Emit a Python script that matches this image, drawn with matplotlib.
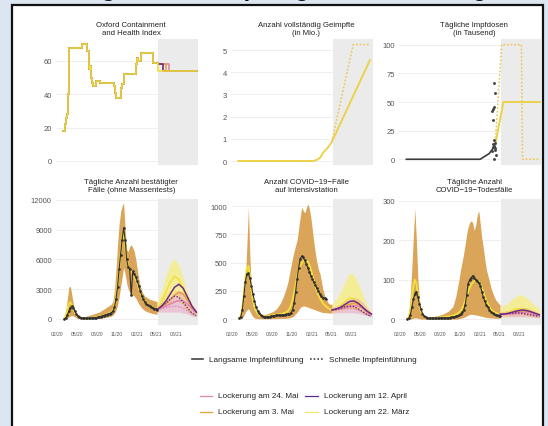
import matplotlib.pyplot as plt
import matplotlib.patches as patches
from matplotlib.lines import Line2D
import numpy as np

plt.rcParams['font.family'] = ['Liberation Sans', 'DejaVu Sans']

W, H = 548, 427

# x axis in days since 2020-02-01
tick_days = [0, 90, 182, 274, 366, 455, 547]
tick_labels = ['02/20', '05/20', '08/20', '11/20', '02/21', '05/21', '08/21']
proj_start = 464
x_range = (-5, 648)

# ---- top row ----
oxford_days = [29, 36, 41, 46, 49, 52, 55, 113, 139, 145, 149, 153, 157, 159, 165,
               178, 197, 260, 266, 271, 293, 297, 308, 362, 366, 372, 384, 442, 462]
oxford_vals = [18, 22, 26, 28, 39, 40, 68, 70, 66, 60, 55, 57, 50, 47, 45,
               48, 47, 45, 41, 38, 44, 46, 52, 58, 62, 60, 65, 59, 58]
# day on which the index steps down to 54 for each scenario
oxford_step_days = {'mar': 466, 'apr': 486, 'may3': 500, 'may24': 514}
oxford_end = 54

vax_days = [29, 373, 390, 405, 419, 440, 458, 634]
vax_vals = [0, 0, 0.05, 0.15, 0.38, 0.6, 0.85, 4.55]
vax_fast_days = [458, 557, 634]
vax_fast_vals = [0.85, 5.25, 5.25]

doses_line_days = [29, 368, 410, 437]
doses_line_vals = [0, 0, 5, 12]
doses_pts_days = [432, 435, 423, 428, 431, 426, 431, 427, 437, 440, 430, 421, 433, 435, 438, 429]
doses_pts_vals = [67, 58, 42, 44, 46, 34, 17, 13, 8, 4, 0, 7, 12, 14, 10, 11]
doses_slow_days = [437, 475, 643]
doses_slow_vals = [12, 50, 50]
doses_fast_days = [437, 467, 558, 563, 636]
doses_fast_vals = [12, 100, 100, 0, 0]

# ---- bottom row: weekly history ----
obs_days = [33, 40, 47, 54, 61, 68, 75, 82, 89, 96,
            103, 110, 117, 124, 131, 138, 145, 152, 159, 166,
            173, 180, 187, 194, 201, 208, 215, 222, 229, 236,
            243, 250, 257, 264, 271, 278, 285, 292, 299, 306,
            313, 320, 327, 334, 341, 348, 355, 362, 369, 376,
            383, 390, 397, 404, 411, 418, 425, 432, 439, 446,
            453, 460]

cases_obs = [10, 100, 400, 800, 1100, 1300, 1100, 800, 500, 300,
             200, 150, 100, 80, 60, 60, 60, 80, 90, 100,
             120, 150, 180, 200, 250, 300, 350, 400, 450, 500,
             550, 650, 800, 1200, 2000, 3200, 5000, 6500, 8000, 9200,
             8000, 6000, 5200, 5000, 2400, 4800, 4500, 4200, 3800, 3300,
             2800, 2300, 2000, 1700, 1500, 1400, 1300, 1200, 1100, 1050,
             1000, 950]
cases_hi = [100, 800, 2000, 3200, 3300, 2400, 1500, 900, 500, 300,
            250, 200, 200, 200, 250, 300, 350, 400, 450, 500,
            550, 600, 650, 700, 800, 900, 1000, 1100, 1200, 1300,
            1400, 1500, 1800, 3000, 5000, 7500, 9500, 10800, 11400, 11700,
            9000, 7000, 6800, 7300, 7500, 7200, 6800, 6000, 5000, 4000,
            3300, 2800, 2500, 2300, 2200, 2100, 2000, 1950, 1900, 1850,
            1800, 1750]
cases_lo = [0, 20, 100, 200, 300, 350, 300, 200, 100, 50,
            30, 20, 20, 20, 20, 20, 20, 30, 30, 40,
            40, 50, 60, 70, 80, 100, 120, 150, 180, 200,
            250, 300, 400, 600, 900, 1400, 2200, 3200, 4200, 5200,
            4500, 3600, 3000, 2700, 2500, 2400, 2300, 2100, 1800, 1500,
            1300, 1100, 950, 850, 750, 700, 650, 600, 550, 520,
            500, 480]
cases_med = [30, 300, 900, 1500, 1700, 1400, 1000, 650, 400, 250,
             150, 100, 80, 70, 70, 70, 80, 90, 100, 120,
             140, 160, 190, 220, 260, 300, 350, 400, 450, 520,
             600, 700, 900, 1400, 2300, 3500, 5000, 6600, 8000, 9000,
             7500, 6000, 5300, 5000, 4800, 4600, 4300, 4000, 3600, 3100,
             2700, 2300, 2000, 1800, 1600, 1450, 1350, 1250, 1150, 1100,
             1050, 1000]

icu_obs = [5, 20, 80, 200, 330, 400, 405, 360, 290, 220,
           160, 110, 75, 50, 35, 25, 20, 18, 18, 20,
           22, 25, 28, 30, 32, 33, 34, 35, 35, 36,
           38, 40, 42, 45, 55, 80, 140, 240, 350, 450,
           530, 555, 545, 520, 490, 455, 420, 385, 355, 325,
           300, 270, 245, 220, 200, 190, 182, 178, None, None,
           None, None]
icu_hi = [10, 40, 100, 200, 350, 650, 990, 550, 220, 120,
          80, 60, 50, 45, 42, 40, 40, 42, 45, 50,
          55, 60, 65, 75, 85, 100, 120, 140, 170, 200,
          240, 280, 330, 400, 470, 540, 600, 650, 700, 800,
          900, 990, 960, 940, 980, 1020, 980, 900, 790, 680,
          580, 500, 440, 400, 330, 260, 210, 180, 150, 135,
          130, 130]
icu_lo = [0, 2, 10, 30, 60, 80, 90, 70, 40, 20,
          10, 5, 3, 2, 2, 2, 2, 2, 2, 2,
          2, 3, 3, 3, 3, 4, 4, 5, 5, 6,
          6, 7, 8, 10, 15, 20, 30, 45, 60, 80,
          100, 110, 115, 115, 110, 105, 100, 95, 90, 85,
          80, 75, 70, 65, 60, 58, 56, 55, 54, 53,
          52, 52]
icu_med = [5, 25, 90, 220, 360, 450, 470, 380, 260, 170,
           110, 75, 50, 35, 28, 24, 22, 22, 23, 25,
           27, 30, 32, 34, 36, 38, 40, 42, 45, 50,
           55, 62, 72, 90, 120, 170, 230, 300, 370, 430,
           470, 495, 510, 515, 520, 510, 480, 440, 390, 340,
           290, 250, 215, 185, 160, 140, 125, 112, 100, 92,
           85, 80]

deaths_obs = [0, 2, 10, 30, 50, 65, 70, 55, 38, 25,
              14, 8, 5, 3, 2, 2, 2, 2, 2, 2,
              2, 2, 3, 3, 3, 3, 3, 4, 4, 5,
              5, 6, 7, 8, 10, 13, 17, 22, 35, 60,
              90, 100, 105, 110, 105, 100, 98, 92, 85, 70,
              55, 45, 36, 30, 24, 19, 15, 13, 11, 10,
              9, 8]
deaths_hi = [2, 15, 60, 130, 210, 280, 200, 100, 50, 25,
             14, 9, 7, 6, 6, 6, 6, 6, 7, 8,
             9, 10, 11, 12, 14, 16, 18, 20, 24, 28,
             32, 45, 60, 80, 100, 125, 145, 165, 190, 215,
             235, 245, 250, 245, 225, 240, 265, 275, 240, 205,
             180, 150, 125, 110, 95, 80, 68, 58, 50, 44,
             40, 36]
deaths_lo = [0, 0, 0, 1, 2, 3, 3, 2, 1, 0,
             0, 0, 0, 0, 0, 0, 0, 0, 0, 0,
             0, 0, 0, 0, 0, 0, 0, 0, 0, 0,
             0, 0, 0, 0, 1, 2, 3, 4, 6, 8,
             10, 12, 12, 12, 11, 10, 10, 9, 8, 7,
             6, 5, 4, 4, 3, 3, 3, 2, 2, 2,
             2, 2]
deaths_med = [0, 5, 20, 50, 85, 100, 90, 60, 35, 20,
              10, 6, 4, 3, 3, 3, 3, 3, 3, 3,
              3, 4, 4, 4, 5, 5, 6, 6, 7, 8,
              9, 10, 12, 14, 17, 21, 27, 35, 45, 58,
              70, 80, 88, 93, 96, 98, 98, 96, 90, 80,
              68, 56, 46, 38, 31, 25, 21, 18, 16, 14,
              13, 12]

# ---- bottom row: projections ----
proj_days = [460, 480, 500, 520, 540, 560, 580, 600, 620, 640]

cases_mar_hi = [1600, 2800, 4300, 5600, 6100, 5400, 4100, 2600, 1500, 1000]
cases_mar_lo = [800, 1200, 1600, 2000, 2200, 2000, 1600, 1100, 700, 400]
cases_mar = [1000, 1700, 2700, 3700, 4300, 4000, 3000, 2000, 1200, 700]
cases_mar_fast = [1000, 1600, 2300, 2800, 2900, 2400, 1700, 1000, 600, 350]
cases_apr = [950, 1300, 1800, 2500, 3200, 3500, 3100, 2200, 1300, 700]
cases_apr_fast = [950, 1250, 1600, 2000, 2300, 2200, 1700, 1100, 600, 350]
cases_may3 = [950, 1200, 1500, 1900, 2400, 2700, 2500, 1900, 1200, 700]
cases_may3_fast = [950, 1150, 1350, 1600, 1800, 1800, 1500, 1000, 600, 300]
cases_may24 = [950, 1100, 1300, 1500, 1700, 1900, 1800, 1500, 1000, 600]
cases_may24_fast = [950, 1050, 1150, 1250, 1300, 1250, 1100, 800, 500, 300]
cases_may24_hi = [1200, 1500, 1900, 2300, 2700, 2900, 2700, 2200, 1500, 900]
cases_may24_lo = [700, 700, 700, 700, 700, 700, 600, 500, 300, 200]

icu_mar_hi = [130, 180, 250, 330, 410, 390, 320, 220, 120, 70]
icu_mar_lo = [50, 60, 70, 80, 90, 85, 75, 60, 45, 35]
icu_mar = [80, 95, 120, 155, 185, 180, 150, 110, 70, 45]
icu_mar_fast = [80, 90, 105, 125, 135, 125, 100, 70, 45, 30]
icu_apr = [80, 90, 105, 130, 155, 160, 140, 105, 70, 45]
icu_apr_fast = [80, 85, 95, 108, 115, 110, 90, 65, 40, 25]
icu_may3 = [80, 88, 98, 112, 130, 140, 130, 100, 68, 42]
icu_may3_fast = [80, 84, 90, 98, 105, 100, 85, 60, 40, 25]
icu_may24 = [80, 84, 90, 98, 108, 118, 115, 95, 65, 40]
icu_may24_fast = [80, 82, 85, 90, 94, 92, 80, 60, 40, 25]
icu_may24_hi = [100, 115, 130, 150, 175, 190, 180, 150, 100, 60]
icu_may24_lo = [55, 55, 55, 55, 55, 55, 50, 40, 30, 20]

deaths_mar_hi = [30, 35, 42, 52, 60, 62, 55, 45, 35, 28]
deaths_mar_lo = [5, 5, 6, 7, 8, 8, 7, 6, 5, 4]
deaths_mar = [12, 15, 19, 23, 26, 27, 25, 21, 16, 12]
deaths_mar_fast = [12, 14, 16, 18, 19, 18, 16, 13, 10, 8]
deaths_apr = [12, 13, 15, 18, 21, 23, 22, 19, 15, 11]
deaths_apr_fast = [12, 13, 14, 15, 16, 15, 13, 11, 9, 7]
deaths_may3 = [12, 13, 14, 16, 18, 20, 20, 17, 14, 10]
deaths_may3_fast = [12, 12, 13, 14, 14, 14, 12, 10, 8, 6]
deaths_may24 = [12, 12, 13, 14, 15, 17, 17, 15, 12, 9]
deaths_may24_fast = [12, 12, 12, 12, 13, 12, 11, 9, 7, 5]
deaths_may24_hi = [18, 20, 22, 25, 28, 30, 29, 25, 20, 15]
deaths_may24_lo = [6, 6, 6, 6, 6, 6, 6, 5, 4, 3]

titles_top = ['Oxford Containment\nand Health Index',
              'Anzahl vollständig Geimpfte\n(in Mio.)',
              'Tägliche Impfdosen\n(in Tausend)']
titles_bottom = ['Tägliche Anzahl bestätigter\nFälle (ohne Massentests)',
                 'Anzahl COVID\u221219\u2212Fälle\nauf Intensivstation',
                 'Tägliche Anzahl\nCOVID\u221219\u2212Todesfälle']

legend_vax = ['Langsame Impfeinführung', 'Schnelle Impfeinführung']
legend_open = ['Lockerung am 24. Mai', 'Lockerung am 12. April',
               'Lockerung am 3. Mai', 'Lockerung am 22. März']

# colours
c_pink = '#e386b0'
c_purple = '#6e2a8c'
c_orange = '#e8a23a'
c_yellow = '#f2df3a'
c_band = '#d9a050'
c_band_yellow = '#f6ee8e'
c_band_pink = '#e9a6c6'
c_obs = '#303030'
c_text = '#555555'


def fx(x):
    return x / W


def fy(y):
    return 1 - y / H


fig = plt.figure(figsize=(W / 100, H / 100), dpi=100)
fig.patch.set_facecolor('#dce6f2')

# white framed card behind the panels
card = patches.Rectangle((fx(12), fy(440)), fx(543) - fx(12), fy(6) - fy(440),
                         transform=fig.transFigure, facecolor='white',
                         edgecolor='#111111', linewidth=1.6, zorder=-10)
fig.patches.append(card)
# page heading cut off by the crop: only its descenders are visible
fig.text(0.5, 1.0 + 4 / H, 'Prognose für Impfung und Lockerung', ha='center',
         va='baseline', fontsize=17, fontweight='bold', color='#111111', zorder=-5)

col_left = [56, 231, 399]
row_top = [40, 200]
ax_w, ax_h = 142, 126


def make_ax(col, row):
    ax = fig.add_axes([fx(col_left[col]), fy(row_top[row] + ax_h), ax_w / W, ax_h / H])
    ax.patch.set_alpha(0)
    for s in ax.spines.values():
        s.set_visible(False)
    ax.axvspan(proj_start, x_range[1], color='#ebebeb', lw=0, zorder=0)
    ax.grid(axis='y', color='#ececec', lw=0.6, zorder=0.5)
    ax.set_axisbelow(True)
    ax.set_xlim(*x_range)
    ax.tick_params(length=0, labelsize=5.5, labelcolor=c_text, pad=3)
    if row == 1:
        ax.set_xticks(tick_days)
        ax.set_xticklabels(tick_labels, fontsize=3.6)
        ax.tick_params(axis='x', pad=4)
    else:
        ax.set_xticks([])
    return ax


def set_title(ax, text, row):
    gap = 3 if row == 0 else 6
    ax.text(0.53, 1 + gap / ax_h, text, transform=ax.transAxes, ha='center',
            va='bottom', fontsize=5.6, color='#222222', linespacing=1.15)


# --- Oxford index ---
ax = make_ax(0, 0)
for key, col in [('may24', c_pink), ('may3', c_orange), ('apr', c_purple), ('mar', c_yellow)]:
    d = oxford_days + [oxford_step_days[key], x_range[1] - 6]
    v = oxford_vals + [oxford_end, oxford_end]
    ax.plot(d, v, drawstyle='steps-post', color=col, lw=1.2)
ax.set_ylim(-2.4, 73.2)
ax.set_yticks([0, 20, 40, 60])
set_title(ax, titles_top[0], 0)

# --- vaccinated ---
ax = make_ax(1, 0)
ax.plot(vax_days, vax_vals, color='#ecd24a', lw=1.4)
ax.plot(vax_fast_days, vax_fast_vals, color='#e9c85a', lw=1.1, ls=(0, (1.2, 1.2)))
ax.set_ylim(-0.18, 5.5)
ax.set_yticks([0, 1, 2, 3, 4, 5])
set_title(ax, titles_top[1], 0)

# --- daily doses ---
ax = make_ax(2, 0)
ax.plot(doses_line_days, doses_line_vals, color='#3a3a3a', lw=1.2)
ax.plot(doses_slow_days, doses_slow_vals, color='#ecd24a', lw=1.4)
ax.plot(doses_fast_days, doses_fast_vals, color='#e9c85a', lw=1.1, ls=(0, (1.2, 1.2)))
ax.scatter(doses_pts_days, doses_pts_vals, s=1.2, color='#444444', zorder=5)
ax.set_ylim(-5, 105)
ax.set_yticks([0, 25, 50, 75, 100])
set_title(ax, titles_top[2], 0)


def draw_epi(ax, lo, hi, med, obs, mar_lo, mar_hi, pk_lo, pk_hi, lines):
    days = np.array(obs_days)
    ax.fill_between(days, lo, hi, color=c_band, lw=0, alpha=0.95, zorder=1)
    ax.fill_between(proj_days, mar_lo, mar_hi, color=c_band_yellow, lw=0, alpha=0.9, zorder=1)
    ax.fill_between(proj_days, pk_lo, pk_hi, color=c_band_pink, lw=0, alpha=0.55, zorder=1.2)
    for col, solid, fast in lines:
        ax.plot(proj_days, solid, color=col, lw=1.1, zorder=3)
        ax.plot(proj_days, fast, color=col, lw=0.9, ls=(0, (1.2, 1.2)), zorder=3)
    ax.plot(days, med, color=c_yellow, lw=1.4, zorder=2)
    o = np.array(obs, dtype=float)
    ax.plot(days, o, color=c_obs, lw=0.8, zorder=4)
    ax.plot(days, o, 'o', color=c_obs, ms=1.9, mew=0, zorder=4)


ax = make_ax(0, 1)
draw_epi(ax, cases_lo, cases_hi, cases_med, cases_obs,
         cases_mar_lo, cases_mar_hi, cases_may24_lo, cases_may24_hi,
         [(c_yellow, cases_mar, cases_mar_fast),
          (c_orange, cases_may3, cases_may3_fast),
          (c_pink, cases_may24, cases_may24_fast),
          (c_purple, cases_apr, cases_apr_fast)])
ax.set_ylim(-605, 12100)
ax.set_yticks([0, 3000, 6000, 9000, 12000])
set_title(ax, titles_bottom[0], 1)

ax = make_ax(1, 1)
draw_epi(ax, icu_lo, icu_hi, icu_med, icu_obs,
         icu_mar_lo, icu_mar_hi, icu_may24_lo, icu_may24_hi,
         [(c_yellow, icu_mar, icu_mar_fast),
          (c_orange, icu_may3, icu_may3_fast),
          (c_pink, icu_may24, icu_may24_fast),
          (c_purple, icu_apr, icu_apr_fast)])
ax.set_ylim(-53, 1062)
ax.set_yticks([0, 250, 500, 750, 1000])
set_title(ax, titles_bottom[1], 1)

ax = make_ax(2, 1)
draw_epi(ax, deaths_lo, deaths_hi, deaths_med, deaths_obs,
         deaths_mar_lo, deaths_mar_hi, deaths_may24_lo, deaths_may24_hi,
         [(c_yellow, deaths_mar, deaths_mar_fast),
          (c_orange, deaths_may3, deaths_may3_fast),
          (c_pink, deaths_may24, deaths_may24_fast),
          (c_purple, deaths_apr, deaths_apr_fast)])
ax.set_ylim(-15, 305)
ax.set_yticks([0, 100, 200, 300])
set_title(ax, titles_bottom[2], 1)


# --- legends, placed in pixel coordinates ---
def legend_item(x0, x1, y, color, ls, label, lw=1.2):
    fig.add_artist(Line2D([fx(x0), fx(x1)], [fy(y), fy(y)], color=color, lw=lw, ls=ls,
                          transform=fig.transFigure))
    fig.text(fx(x1 + 6), fy(y), label, ha='left', va='center', fontsize=5.9, color='#222222')


legend_item(192, 203, 360, '#444444', '-', legend_vax[0])
legend_item(310, 323, 360, '#444444', (0, (1, 1.2)), legend_vax[1])

legend_colors = [c_pink, '#5b2d90', c_orange, '#f3ea6a']
legend_item(200, 212, 397, legend_colors[0], '-', legend_open[0], lw=0.9)
legend_item(305, 318, 397, legend_colors[1], '-', legend_open[1], lw=0.9)
legend_item(200, 212, 413, legend_colors[2], '-', legend_open[2], lw=0.9)
legend_item(305, 318, 413, legend_colors[3], '-', legend_open[3], lw=0.9)

fig.savefig('out.png', dpi=100, facecolor=fig.get_facecolor())
